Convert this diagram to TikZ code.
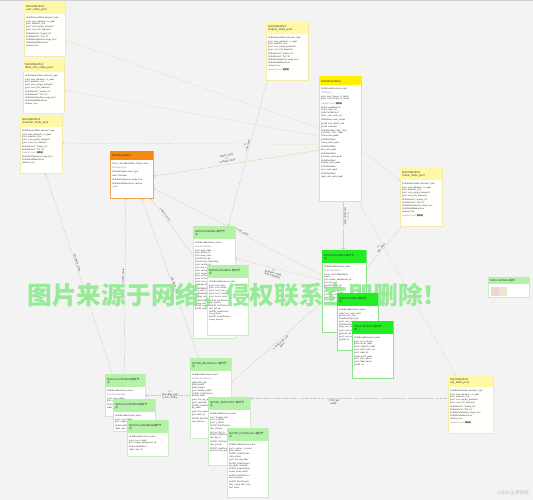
\documentclass[tikz,border=0pt]{standalone}
\usepackage{fontspec}
\setmainfont{Noto Sans CJK SC}
\usetikzlibrary{arrows.meta,shadows}
\pgfdeclarelayer{bgl}
\pgfdeclarelayer{edges}
\pgfsetlayers{bgl,edges,main}

\definecolor{bg}{HTML}{F3F3F3}
\definecolor{txt}{HTML}{333333}
\definecolor{ltxt}{HTML}{8A8A8A}
\definecolor{poolhd}{HTML}{FFF9A6}
\definecolor{poolbd}{HTML}{F1EAAA}
\definecolor{poolbg}{HTML}{FFFFFB}
\definecolor{basehd}{HTML}{F5890F}
\definecolor{basebd}{HTML}{F3A55C}
\definecolor{basebg}{HTML}{FFFFFF}
\definecolor{batchhd}{HTML}{FFF100}
\definecolor{batchbd}{HTML}{ECE27C}
\definecolor{batchbg}{HTML}{FFFFFF}
\definecolor{lghd}{HTML}{B4F2A8}
\definecolor{lgbd}{HTML}{CBEDC4}
\definecolor{lgbg}{HTML}{FFFFFF}
\definecolor{bghd}{HTML}{22EC22}
\definecolor{bgbd}{HTML}{8BE38B}
\definecolor{bgbg}{HTML}{FFFFFF}
\definecolor{ylw}{HTML}{E2D79A}
\definecolor{orl}{HTML}{E9B26C}
\definecolor{gry}{HTML}{C2C2C2}
\definecolor{pnk}{HTML}{E3BDBD}
\definecolor{wm}{HTML}{8EEA8E}
\definecolor{lgA}{HTML}{EAD7CF}
\definecolor{lgB}{HTML}{EFE3D2}

\tikzset{
  ubody/.style={rectangle, line width=0.5pt, inner sep=0pt,
    drop shadow={shadow xshift=0.5pt, shadow yshift=-0.7pt, opacity=0.10}},
  uhead/.style={rectangle, inner xsep=1.75pt, inner ysep=1pt, align=left,
    font=\fontsize{2.7}{3.3}\selectfont, text=txt},
  utext/.style={rectangle, inner xsep=1.75pt, inner ysep=1pt, align=left,
    font=\fontsize{2.1}{2.75}\selectfont, text=txt},
  conn/.style={draw=#1, line width=0.35pt, dash pattern=on 1.6pt off 1.1pt,
    -{Straight Barb[length=1.6pt,width=2.8pt]}},
  connr/.style={draw=#1, line width=0.35pt, dash pattern=on 1.6pt off 1.1pt,
    {Straight Barb[length=1.6pt,width=2.8pt]}-},
  elab/.style={font=\fontsize{2.4}{2.8}\selectfont, align=center, sloped,
    inner sep=0.6pt, text=txt}
}

\newcommand{\ubox}[9]{%
  \node[ubody, draw=#6bd, fill=#6bg, minimum width=#4pt, minimum height=#5pt, anchor=north west] (#1) at (#2,#3) {};
  \node[uhead, fill=#6hd, text width=#4pt-4pt, minimum height=#9pt, anchor=north west] (#1h) at ([xshift=0.25pt,yshift=-0.25pt]#1.north west) {#7};
  \node[utext, text width=#4pt-4pt, anchor=north west] (#1b) at ([yshift=-0.6pt]#1h.south west) {#8};}

\newcommand{\poolbody}{NvDsElementMeta element\_type\\[1.2pt]
guint max\_elements\_in\_pool\\ guint element\_size\\ guint num\_empty\_elements\\ guint num\_full\_elements\\[1.2pt]
NvDsMetaList *empty\_list\\ NvDsMetaList *full\_list\\[1.2pt]
NvDsMetaCopyFunc copy\_func\\ NvDsMetaReleaseFunc\\ release\_func}
\newcommand{\poolend}{\\[1.2pt]\textcolor{ltxt}{typedef struct} \textbf{结构体}}
\newcommand{\poolbodyx}{NvDsElementMeta element\_type\\[1.2pt]
guint max\_elements\_in\_pool\\ guint element\_size\\ guint num\_empty\_elements\\ guint num\_full\_elements\\[1.2pt]
NvDsMetaList *empty\_list\\ NvDsMetaList *full\_list\\[1.2pt]
\textcolor{ltxt}{typedef struct} \textbf{结构体}\\[1.2pt]
NvDsMetaCopyFunc copy\_func\\ NvDsMetaReleaseFunc\\ release\_func}

\begin{document}
\begin{tikzpicture}[x=1pt,y=-1pt]
\useasboundingbox (0,0) rectangle (533,500);
\begin{pgfonlayer}{bgl}
\fill[bg] (0,0) rectangle (533,500);
\draw[line width=1pt, draw=gray!35] (0,0.5) -- (533,0.5);
\end{pgfonlayer}

% ---------- boxes ----------
\ubox{A}{24}{2}{41}{54}{pool}{NvDsMetaPool\\*user\_meta\_pool}{\poolbody}{12}
\ubox{B}{23}{60}{41}{53}{pool}{NvDsMetaPool\\*label\_info\_meta\_pool}{\poolbody}{12}
\ubox{C}{20}{115}{42}{58}{pool}{NvDsMetaPool\\*classifier\_meta\_pool}{\poolbodyx}{12}
\ubox{E}{266}{22}{42}{58}{pool}{NvDsMetaPool\\*display\_meta\_pool}{\poolbody\poolend}{12}
\ubox{G}{400}{168}{42}{58}{pool}{NvDsMetaPool\\*frame\_meta\_pool}{\poolbody\poolend}{12}
\ubox{S}{448}{375}{45}{58}{pool}{NvDsMetaPool\\*obj\_meta\_pool}{\poolbody\poolend}{12}

\ubox{D}{110}{151}{43}{47}{base}{NvDsBaseMeta}{struct \_NvDsBatchMeta *batch\_meta\\[1.3pt]
\textcolor{ltxt}{NvDsMetaType}\\[1.3pt] NvDsMetaType meta\_type\\[1.3pt] void *uContext\\[1.3pt]
NvDsMetaCopyFunc copy\_func\\[1.3pt] NvDsMetaReleaseFunc release\\ \_func}{9}

\ubox{F}{319}{76}{42}{125}{batch}{NvDsBatchMeta}{NvDsBaseMeta base\_meta\\[1.3pt]
\textcolor{ltxt}{NvDsMeta\_t}\\[1.3pt]
guint max\_frames\_in\_batch\\ guint num\_frames\_in\_batch\\[1.3pt]
\textcolor{ltxt}{typedef struct} \textbf{结构体}\\[1.3pt]
NvDsFrameMetaList\\ *frame\_meta\_list\\ NvDsUserMetaList\\ *batch\_user\_meta\_list\\[1.3pt]
GRecMutex meta\_mutex\\[1.3pt]
gint64 misc\_batch\_info\\ gint64 reserved\\[1.3pt]
NvDsMetaPool *obj, *disp,\\ *classifier, *user, *label\\ *frame meta pools\\[1.3pt]
NvDsMetaPool\\ *frame\_meta\_pool\\[1.3pt]
NvDsMetaPool\\ *obj\_meta\_pool\\[1.3pt]
NvDsMetaPool\\ *classifier\_meta\_pool\\[1.3pt]
NvDsMetaPool\\ *display\_meta\_pool\\[1.3pt]
NvDsMetaPool\\ *user\_meta\_pool\\[1.3pt]
NvDsMetaPool\\ *label\_info\_meta\_pool}{9}

\ubox{H}{193}{226}{42}{112}{lg}{NvDsFrameMeta 临时节\\点}{NvDsBaseMeta base\_meta\\[1.2pt]
\textcolor{ltxt}{NvDsFrameMeta}\\[1.2pt]
guint pad\_index\\ guint batch\_id\\ gint frame\_num\\ guint64 buf\_pts\\ guint64 ntp\_timestamp\\[1.2pt]
guint source\_id\\ gint num\_surfaces\\ guint source\_frame\_width\\ guint source\_frame\_height\\ guint surface\_type\\ guint surface\_index\\ guint num\_obj\_meta\\ gboolean bInferDone\\[1.2pt]
NvDsObjectMetaList\\ *obj\_meta\_list\\ NvDisplayMetaList\\ *display\_meta\_list\\[1.2pt]
NvDsUserMetaList\\ *frame\_user\_meta\_list\\ gint64 misc\_frame\_info\\ gint64 reserved}{13}
\ubox{I}{207}{265}{41}{70}{lg}{NvDsDisplayMeta 临时节\\点}{NvDsBaseMeta base\_meta\\[1.2pt]
guint num\_rects\\ guint num\_labels\\ guint num\_lines\\ guint num\_arrows\\ guint num\_circles\\[1.2pt]
NvOSD\_RectParams\\ rect\_params\\ NvOSD\_TextParams\\ text\_params\\ NvOSD\_LineParams\\ line\_params\\ NvOSD\_ArrowParams\\ arrow\_params}{13}

\ubox{J}{322}{250}{44}{82}{bg}{NvDsObjectMeta 临时节\\点}{NvDsBaseMeta base\_meta\\[1.2pt]
\textcolor{ltxt}{NvDsObjectMeta}\\[1.2pt]
struct \_NvDsObjectMeta\\ *parent\\ gint unique\_component\_id\\ gint class\_id\\ guint64 object\_id\\ gfloat confidence\\[1.2pt]
gint unique\_id\\ gint class\_id\\ guint64 obj\_id\\ gfloat conf\\[1.2pt]
aux\_params}{13}

% ---------- watermark (under the later boxes) ----------
\node[font=\fontsize{24.7}{24.7}\selectfont\bfseries, text=wm, opacity=0.9, inner sep=0pt] (wmark) at (237.5,296) {图片来源于网络，侵权联系立即删除！};

\ubox{K}{337}{293}{41}{57}{bg}{NvDsUserMeta 临时节\\点}{NvDsBaseMeta base\_meta\\[1.2pt]
void *user\_meta\_data\\ gint64 misc\_info\\ NvDsMetaType type\\ guint num\_params\\ NvDsMetaCopyFunc\\ copy\_user\_meta\_func\\[1.2pt]
guint user\_data\\ gpointer ptr\\ guint num\_entries\\ gint64 rsv}{13}
\ubox{L}{352}{321}{41}{57}{bg}{NvDsLabelInfo 临时节\\点}{NvDsBaseMeta base\_meta\\[1.2pt]
guint num\_classes\\ gchar result\_label\\ gchar *pResult\_label\\ guint result\_class\_id\\ guint label\_id\\[1.2pt]
gfloat result\_prob\\ guint class\_count\\ guint label\_count\\ gint64 rsv}{13}

\ubox{M}{105}{374}{40}{42}{lg}{NvDsClassifierMeta临时节\\点}{NvDsBaseMeta base\_meta\\[1.2pt]
\textcolor{ltxt}{NvDsClassifierMeta}\\[1.2pt]
guint num\_labels\\ gint unique\_component\_id\\[1.2pt] NvDsLabelInfoList\\ *label\_info\_list}{13}
\ubox{N}{113}{399}{42}{32}{lg}{NvDsClassifierMeta临时节\\点}{NvDsBaseMeta base\_meta\\[1.2pt]
guint num\_labels\\ gint unique\_id\\[1.2pt] NvDsLabelInfoList\\ *label\_info\_list}{13}
\ubox{O}{127}{420}{41}{36}{lg}{NvDsClassifierMeta临时节\\点}{NvDsBaseMeta base\_meta\\[1.2pt]
guint num\_labels\\ gint unique\_component\_id\\[1.2pt] NvDsLabelInfoList\\ *label\_info\_list}{13}

\ubox{P}{190}{358}{41}{80}{lg}{NvOSD\_RectParams 临时节\\点}{NvDsBaseMeta base\_meta\\[1.2pt]
\textcolor{ltxt}{NvOSD\_RectParams}\\[1.2pt]
gfloat left, top\\ gfloat width\\ gfloat height\\ guint border\_width\\ NvOSD\_ColorParams\\ border\_color\\[1.2pt]
guint has\_bg\_color\\ guint reserved\\ NvOSD\_ColorParams\\ bg\_color\\[1.2pt]
guint has\_color\_info\\ gint color\_id\\[1.2pt]
NvOSD\_RectParams\\ rect\_params}{13}
\ubox{Q}{208}{397}{42}{68}{lg}{NvOSD\_TextParams 临时节\\点}{NvDsBaseMeta base\_meta\\[1.2pt]
char *display\_text\\ guint x\_offset\\ guint y\_offset\\ NvOSD\_FontParams\\ font\_params\\[1.2pt]
gint set\_bg\_clr\\ NvOSD\_ColorParams\\ text\_bg\_clr\\[1.2pt]
NvOSD\_TextParams\\ text\_params\\[1.2pt]
NvOSD\_LineParams line\\ params, line\_width}{13}
\ubox{R}{227}{428}{41}{69}{lg}{NvOSD\_FontParams 临时节\\点}{NvDsBaseMeta base\_meta\\[1.2pt]
gint x\_center, y\_center\\ guint radius\\ NvOSD\_ColorParams\\ circle\_color\\ guint has\_bg\_color\\[1.2pt]
NvOSD\_ColorParams\\ bg\_color, reserved\\ NvOSD\_ArrowParams\\ arrow\_head, width\\[1.2pt]
NvOSD\_MaskParams\\ mask\_params\\[1.2pt]
NvOSD\_FontParams\\ font\_name, font\_size\\ font\_color}{13}

% legend
\ubox{T}{488}{277}{41}{20}{lg}{NvDsUserMeta 临时}{}{7}
\fill[lgA] (491,287) rectangle (499,296);
\fill[lgB] (499,287) rectangle (507,296);

% ---------- connectors (behind boxes) ----------
\begin{pgfonlayer}{edges}
\draw[connr=ylw] ([yshift=-11pt]A.east) -- ([yshift=10.5pt]F.west);
\draw[connr=ylw] ([yshift=-3.5pt]B.east) -- ([yshift=2.5pt]F.west);
\draw[connr=ylw] ([yshift=1pt]C.east) -- ([yshift=-5.5pt]F.west);
\draw[connr=orl] ([yshift=-1.5pt]D.east) -- node[elab, pos=0.45, above=1.5pt] {batch\_meta\\<{}<-\\include\_meta} ([yshift=-11.5pt]F.west);
\draw[conn=ylw] ([yshift=-11.5pt]F.east) -- ([yshift=17pt]G.west);
\draw[conn=ylw] ([xshift=-3pt]F.south east) -- ([xshift=-15pt]S.north);
\draw[conn=gry] ([xshift=3pt]F.south) -- node[elab, pos=0.3, above] {<{}<-{}->{}>\\sub\_type\_meta} ([xshift=-1pt]J.north);
\draw[connr=gry] ([yshift=23pt]J.east) -- node[elab, pos=0.45, above] {<{}<-{}-\\sub\_meta} ([xshift=2pt]G.south west);
\draw[connr=gry] ([xshift=-3pt]D.south east) -- node[elab, pos=0.3, above] {<{}< batch\_meta} ([yshift=27pt]H.west);
\draw[connr=pnk] ([yshift=-13.5pt]D.east) -- node[elab, pos=0.52, above] {<{}< sub\_meta} ([yshift=16pt]J.west);
\draw[connr=gry] ([xshift=14pt]H.north) -- node[elab, pos=0.55, above] {<{}<-\\sub\_meta} ([xshift=-20pt]E.south);
\draw[connr=gry] ([xshift=4pt]C.south) -- node[elab, pos=0.45, above] {full\_batch\_meta} ([xshift=-13pt]M.north);
\draw[connr=gry] ([xshift=-6pt]D.south) -- node[elab, pos=0.45, above] {<{}<- batch\_meta} ([xshift=-1pt]M.north);
\draw[connr=gry] ([xshift=10pt]D.south) -- node[elab, pos=0.55, above] {sub\_batch\_meta} ([xshift=-12pt]P.north);
\draw[connr=pnk] ([yshift=24pt]H.east) -- node[elab, pos=0.45, below=1pt] {<{}<-\\graphics\_meta\\full\_metadata} ([yshift=11pt]J.west);
\draw[connr=gry] ([yshift=16pt]P.east) -- node[elab, pos=0.52, below=1pt] {<{}< img\_meta\_sub\\gaue} ([yshift=-11pt]J.west);
\draw[connr=gry] ([yshift=33pt]Q.east) -- node[elab, pos=0.42, below=1pt] {<{}< full\_pix\\value} ([yshift=6pt]S.west);
\draw[connr=gry] (M.east) -- node[elab, pos=0.55] {<{}<-\\Classifier\_met\\a\_hits\_utility} ([yshift=3pt]P.west);
\end{pgfonlayer}

% ---------- credit ----------
\node[font=\fontsize{4.6}{5}\selectfont, text=gray!55, anchor=east, inner sep=0pt] (credit) at (529,493) {CSDN @李余阳};
\end{tikzpicture}
\end{document}
